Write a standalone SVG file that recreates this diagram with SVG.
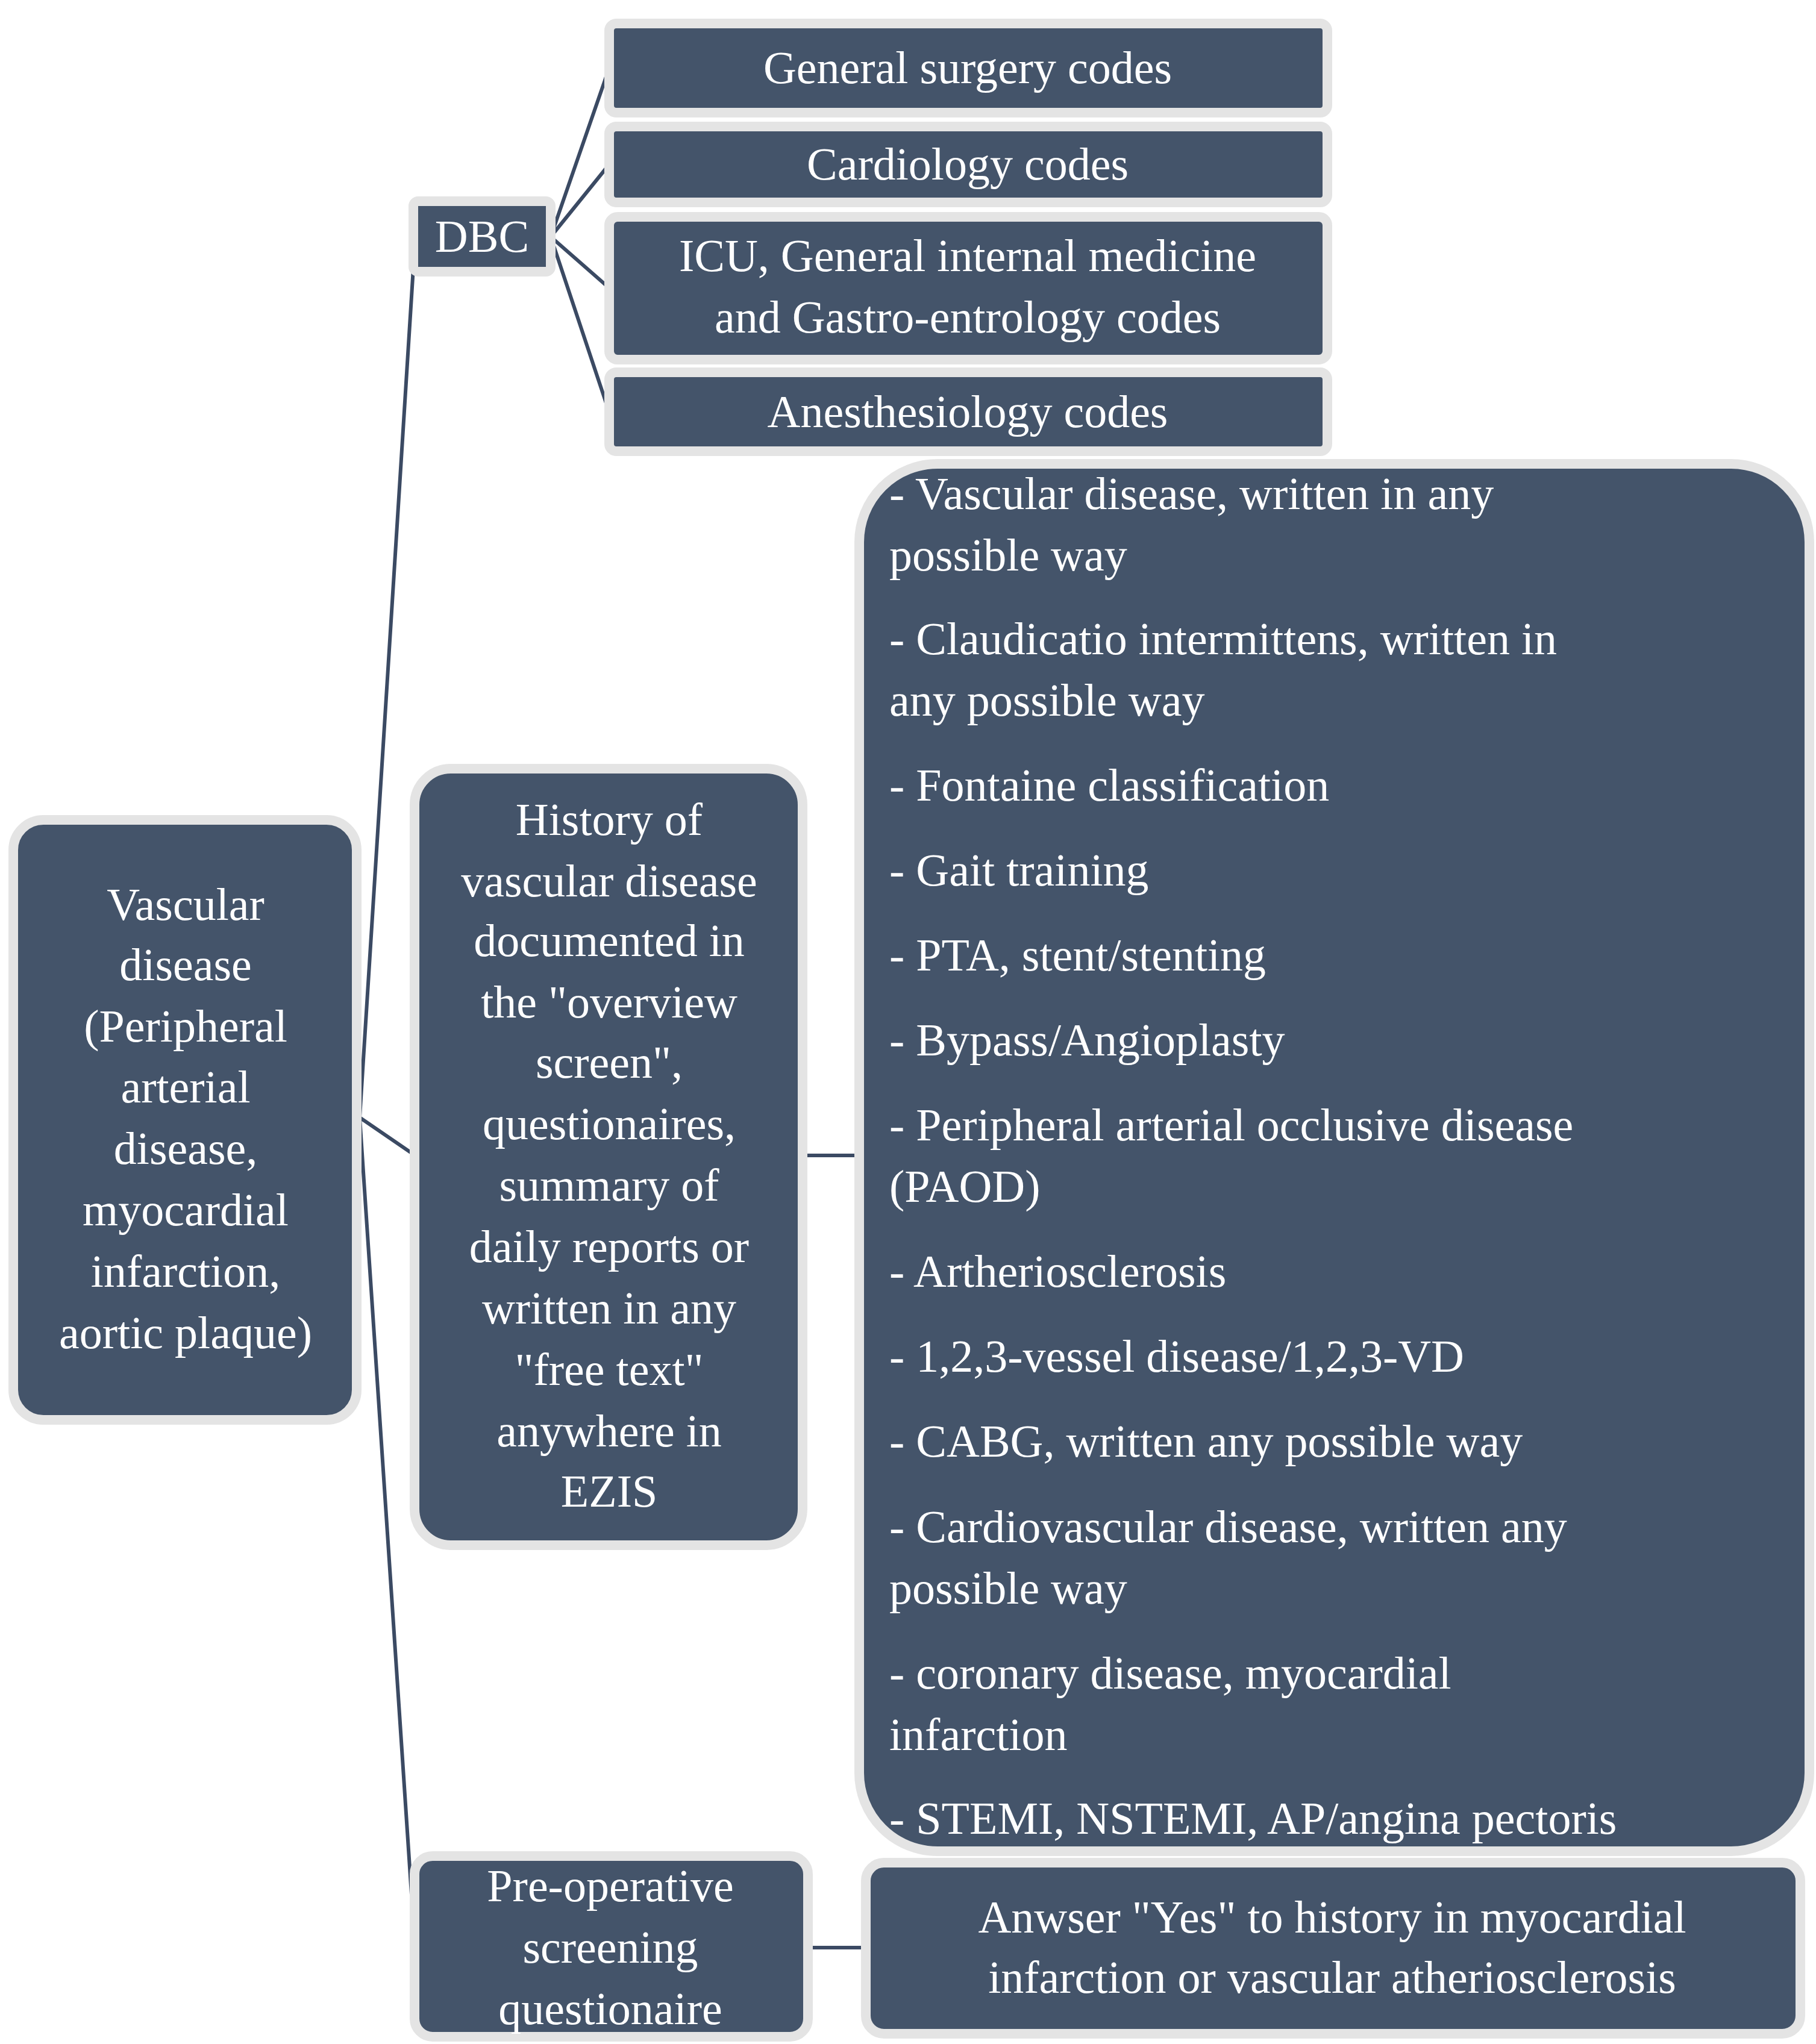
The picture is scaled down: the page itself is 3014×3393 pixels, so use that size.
<svg xmlns="http://www.w3.org/2000/svg" width="3014" height="3393" viewBox="0 0 3014 3393">
<style>
.b{fill:#44546a;stroke:#e4e4e4;stroke-width:16}
text{font-family:"Liberation Serif",serif;font-size:76px;fill:#fff;text-anchor:middle}
.l{text-anchor:start}
.c{stroke:#3b4a63;stroke-width:6;fill:none}
</style>
<rect width="3014" height="3393" fill="#fff"/>
<g id="connectors">
<path class="c" d="M597 1855L686 445M597 1855L686 1916M597 1855L686 3190"/>
<path class="c" d="M914 393L1011 113M914 393L1011 273M914 393L1011 478M914 393L1011 684"/>
<path class="c" d="M1332 1918H1426M1341 3233H1437" stroke-width="8"/>
</g>
<g id="gs"><rect class="b" x="1011" y="39" width="1192" height="148" rx="12"/><text x="1606" y="138">General surgery codes</text></g>
<g id="card"><rect class="b" x="1011" y="210" width="1192" height="126" rx="12"/><text x="1606" y="298">Cardiology codes</text></g>
<g id="icu"><rect class="b" x="1011" y="360" width="1192" height="237" rx="14"/><text x="1606" y="450">ICU, General internal medicine</text><text x="1606" y="552">and Gastro-entrology codes</text></g>
<g id="anes"><rect class="b" x="1011" y="618" width="1192" height="131" rx="12"/><text x="1606" y="709">Anesthesiology codes</text></g>
<g id="dbc"><rect class="b" x="686" y="334" width="228" height="117" rx="8"/><text x="800" y="418">DBC</text></g>
<g id="root"><rect class="b" x="22" y="1361" width="570" height="996" rx="50"/>
<text x="308" y="1527">Vascular</text><text x="308" y="1627">disease</text><text x="308" y="1729">(Peripheral</text><text x="308" y="1830">arterial</text><text x="308" y="1932">disease,</text><text x="308" y="2034">myocardial</text><text x="308" y="2136">infarction,</text><text x="308" y="2238">aortic plaque)</text></g>
<g id="hist"><rect class="b" x="688" y="1276" width="644" height="1289" rx="60"/>
<text x="1011" y="1386">History of</text><text x="1011" y="1488">vascular disease</text><text x="1011" y="1587">documented in</text><text x="1011" y="1689">the "overview</text><text x="1011" y="1789">screen",</text><text x="1011" y="1891">questionaires,</text><text x="1011" y="1993">summary of</text><text x="1011" y="2095">daily reports or</text><text x="1011" y="2197">written in any</text><text x="1011" y="2299">"free text"</text><text x="1011" y="2401">anywhere in</text><text x="1011" y="2501">EZIS</text></g>
<g id="list"><rect class="b" x="1426" y="770" width="1577" height="2303" rx="130"/>
<text class="l" x="1476" y="845">- Vascular disease, written in any</text>
<text class="l" x="1476" y="947">possible way</text>
<text class="l" x="1476" y="1086"> - Claudicatio intermittens, written in</text>
<text class="l" x="1476" y="1188">any possible way</text>
<text class="l" x="1476" y="1329">- Fontaine classification</text>
<text class="l" x="1476" y="1470">- Gait training</text>
<text class="l" x="1476" y="1611">- PTA, stent/stenting</text>
<text class="l" x="1476" y="1752">- Bypass/Angioplasty</text>
<text class="l" x="1476" y="1893">- Peripheral arterial occlusive disease</text>
<text class="l" x="1476" y="1995">(PAOD)</text>
<text class="l" x="1476" y="2136">- Artheriosclerosis</text>
<text class="l" x="1476" y="2277">- 1,2,3-vessel disease/1,2,3-VD</text>
<text class="l" x="1476" y="2418">- CABG, written any possible way</text>
<text class="l" x="1476" y="2560">- Cardiovascular disease, written any</text>
<text class="l" x="1476" y="2662">possible way</text>
<text class="l" x="1476" y="2803">- coronary disease, myocardial</text>
<text class="l" x="1476" y="2905">infarction</text>
<text class="l" x="1476" y="3044">- STEMI, NSTEMI, AP/angina pectoris</text></g>
<g id="preop"><rect class="b" x="688" y="3081" width="653" height="300" rx="30"/>
<text x="1013" y="3156">Pre-operative</text><text x="1013" y="3258">screening</text><text x="1013" y="3360">questionaire</text></g>
<g id="ans"><rect class="b" x="1437" y="3092" width="1551" height="284" rx="30"/>
<text x="2211" y="3208">Anwser "Yes" to history in myocardial</text><text x="2211" y="3308">infarction or vascular atheriosclerosis</text></g>
</svg>
